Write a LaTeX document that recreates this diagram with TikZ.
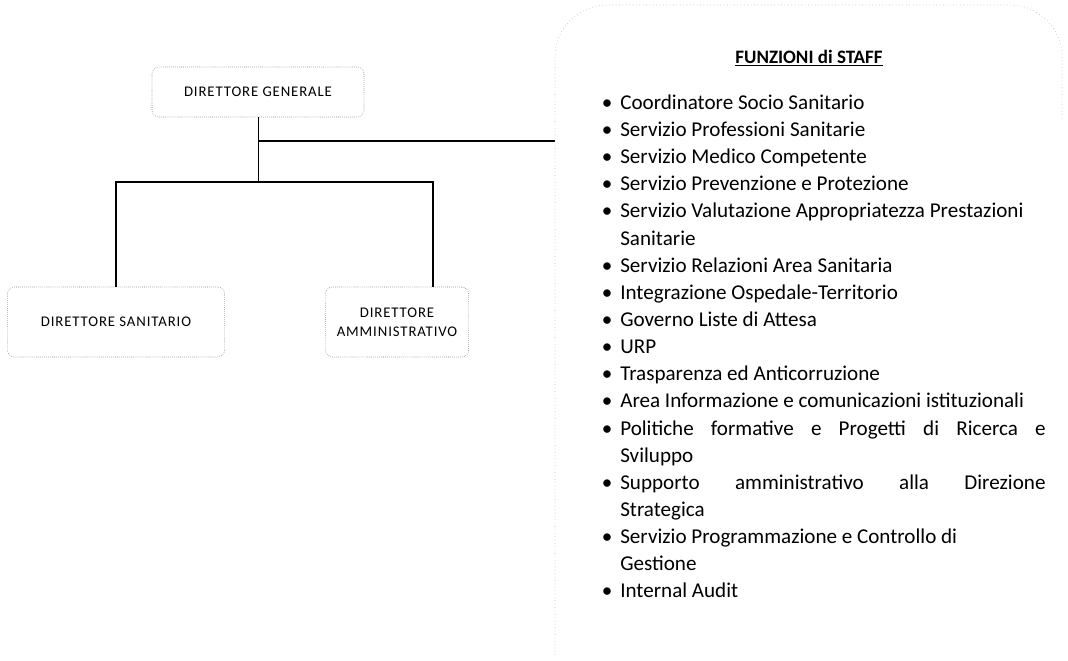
\documentclass[tikz,border=0pt]{standalone}
\usepackage{fontspec}
\setmainfont{Carlito}
\usepackage{enumitem}
\usetikzlibrary{positioning}

\tikzset{
  rolebox/.style={draw=black!55,densely dotted,rounded corners=5pt,align=center,
    font=\fontsize{10.5}{13.5}\selectfont\addfontfeature{LetterSpace=6},inner sep=2pt},
  link/.style={draw=black,line width=0.8pt},
  staffframe/.style={draw=black!30,dotted,rounded corners=1.3cm}
}

\begin{document}
\begin{tikzpicture}[x=0.025cm,y=-0.025cm]
\useasboundingbox (0,0) rectangle (1068,660);

% direzione strategica
\node[rolebox,minimum width=5.3cm,minimum height=1.25cm] (dirgen) at (258,92) {DIRETTORE GENERALE};
\node[rolebox,minimum width=5.43cm,minimum height=1.75cm] (dirsan) at (116,322) {DIRETTORE SANITARIO};
\node[rolebox,minimum width=3.58cm,minimum height=1.75cm] (diramm) at (397,322) {DIRETTORE\\AMMINISTRATIVO};

\coordinate (staffjoin) at (258,141);
\coordinate (split) at (258,182);
\coordinate (staffedge) at (555,141);

\draw[link,line width=0.5pt] (dirgen.south) -- (split);
\draw[link] (staffjoin) -- (staffedge);
\draw[link] (dirsan.north) |- (split) -| ([xshift=0.9cm]diramm.north);

% funzioni di staff
\draw[staffframe] (555,655) -- (555,5) -- (1062,5) -- (1062,120);
\node[anchor=base,font=\fontsize{13.5}{16}\selectfont\bfseries] (stafftitle) at (809,63) {\underline{FUNZIONI di STAFF}};
\node[anchor=north west,inner sep=0pt,text width=10.98cm,align=justify,
  font=\fontsize{15}{19.3}\selectfont] (stafflist) at (606,82) {%
\begin{itemize}[leftmargin=0.35cm,labelsep=0.2cm,itemsep=0pt,topsep=0pt,parsep=0pt,partopsep=0pt]
\item Coordinatore Socio Sanitario
\item Servizio Professioni Sanitarie
\item Servizio Medico Competente
\item Servizio Prevenzione e Protezione
\item Servizio Valutazione Appropriatezza Prestazioni\newline Sanitarie
\item Servizio Relazioni Area Sanitaria
\item Integrazione Ospedale-Territorio
\item Governo Liste di Attesa
\item URP
\item Trasparenza ed Anticorruzione
\item Area Informazione e comunicazioni istituzionali
\item Politiche formative e Progetti di Ricerca e\linebreak Sviluppo
\item Supporto amministrativo alla Direzione\linebreak Strategica
\item Servizio Programmazione e Controllo di\newline Gestione
\item Internal Audit
\end{itemize}};
\end{tikzpicture}
\end{document}
